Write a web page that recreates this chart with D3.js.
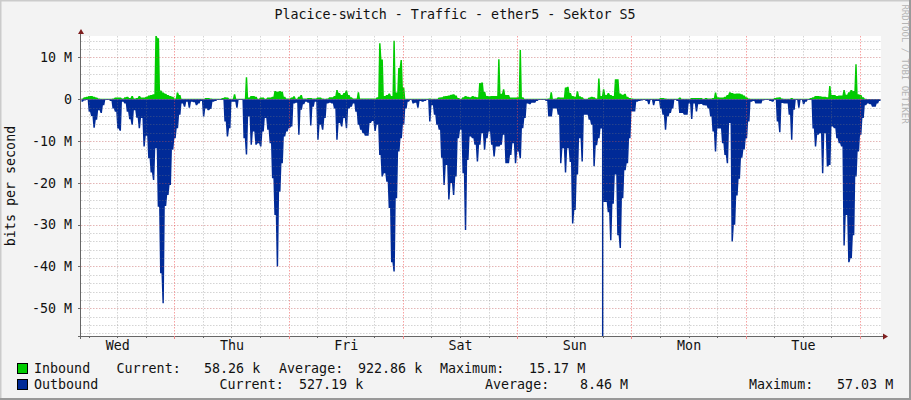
<!DOCTYPE html>
<html lang="en">
<head>
<meta charset="UTF-8" />
<title>Placice-switch - Traffic - ether5 - Sektor S5</title>
<script src="https://d3js.org/d3.v7.min.js"></script>
<style>
  html, body { margin: 0; padding: 0; background: #f3f3f3; overflow: hidden; }
  svg { display: block; }
  text { font-family: "DejaVu Sans Mono", monospace; fill: #111; white-space: pre; }
  .axis path, .axis line { stroke: none; }
  .axis text { font-size: 13.33px; font-family: "DejaVu Sans Mono", monospace; fill: #111; }
</style>
</head>
<body>
<svg id="chart" width="911" height="400"></svg>
<script>
// 30 minute samples in Mbit/s, one row = 6 hours
const inbound = [
  .2,.5,.6,.8,.8,.6,.4,.2,.1,.1,.1,.1,
  .1,.2,.4,.4,.4,.2,.5,.6,.3,.8,.2,.3,
  .8,.4,.4,.6,.9,1,1.2,15.17,14.6,2.1,1.6,1.3,
  1,.8,.6,.2,1.6,1,.1,.1,.1,.1,.1,.1,
  .1,.1,.1,.1,.3,.3,.2,.1,.1,.1,.1,.3,
  .5,.4,.1,.1,1.2,.1,.1,.1,.1,5.3,.4,.8,
  .8,.6,.1,.4,.4,.1,.4,.4,.6,2,1.8,2,

  1.8,.6,.2,.2,.4,.7,.1,.6,1,.2,.2,.3,
  .3,.2,.2,.4,.4,.2,.1,.2,.5,.5,.8,2.2,
  1.5,1,1.5,2.1,1,.5,.2,.2,1.7,.2,.2,.2,
  .2,.2,.2,.2,.5,13.4,9.5,.8,1,1.4,.8,14,
  1.6,7.5,9.4,2.8,.1,.1,.1,.1,.1,.1,.1,.1,
  .1,.1,.2,.1,.1,.1,.4,.5,.7,.8,.9,1.1,
  1.2,.9,.3,.1,.5,.8,.6,.5,.8,.6,.5,3.9,

  4,1.8,.8,.7,.8,.8,.8,9.6,1.3,2.4,1,1,
  .4,.4,.4,.5,11.8,.5,.1,.1,.1,.1,.1,.1,
  .1,.1,.1,.1,.2,1.7,.1,.2,.5,.4,.4,2.8,
  3,1.5,.8,.6,1.9,.7,.5,.1,.1,.4,.6,.5,
  .2,5,.8,2.4,1,1.5,1,.8,4.8,4.8,1.4,1.1,
  1.3,.6,.3,.2,.1,.1,.1,.1,.1,.1,.1,.1,
  .1,.1,.1,.3,.3,.2,.1,.1,.1,.1,.1,.4,

  .1,.1,.1,.1,.3,.3,.3,.3,.3,.1,.3,.2,
  .2,.3,1.6,.5,.4,.4,.6,1,1.7,1.5,1.3,1.4,
  1.4,1.2,.9,.5,.2,.1,.1,.1,.1,.1,.1,.1,
  .1,.1,.1,.3,.4,.5,.2,.1,.1,.1,.3,.1,
  .1,.1,.1,.1,.1,.1,.3,.5,.8,.8,.7,.6,
  .6,.5,3.2,1,1,.8,.9,.9,2.2,1.1,1.7,2.2,
  2,8.4,1.2,1,.5,.1,.06,.06,.06,.06,.06,.06
];

const outbound = [
  .6,.3,.2,3,4,6.8,4.9,2.6,3.3,1.4,.2,.2,
  .4,2.2,3,7,7.5,.6,1,3,4.8,6.1,2.6,4.4,
  6.9,4.5,11.3,8.7,14.1,17.5,19.3,11.7,25.7,41.6,48.8,25.5,
  22.9,20.5,12.1,9.3,6.9,3.7,1,1.8,.6,2,.6,.7,
  1.4,1,.4,4.1,2.2,2.6,2.3,.6,.4,.2,.2,.2,
  5.3,8.9,6.9,.6,.6,2,.2,.2,9.3,13.2,4.1,10.9,
  7.7,10.9,10.5,11.3,7.7,4.5,7.3,10.5,18.9,27.7,40,22.1,

  15.3,8.9,7.7,6.9,6.5,1,.8,8.5,2.5,1.2,.6,.8,
  6.3,1.8,.6,9.7,6.1,7.3,4.5,1,.8,1,2.2,9.7,
  5.7,6.5,4.5,6.9,2.2,1.8,1,3,6.1,7.3,8.1,8.7,
  8.7,5.7,5.2,7.6,6.1,13.3,18.5,17.7,19.7,26,39,41.2,
  23.7,12.5,9.3,6.1,2.2,.6,.2,1,.8,2,.4,.6,
  .4,.2,5.3,1.4,3.7,6.1,7.3,14,20.5,15.7,24,20,
  22.9,18.5,9.3,7.3,17.7,31.3,14.5,8.9,9.3,10.9,14.9,10.9,

  8.1,12.1,9.3,7.7,10.9,13.7,11.3,11.3,10.9,8.5,15.3,15.3,
  13.3,10.5,15.3,12.5,14.1,6.9,4.5,1,1.2,.8,.8,.4,
  .2,.2,.2,.4,4.1,4.1,2.2,2.2,3.7,15.3,11.7,17.5,
  11.7,15,29.7,26.5,18,9.3,14.9,3.7,3.7,4.9,6.1,16,
  11,9.3,7,24.6,24.6,27,33.7,25,18,32.5,35.6,23.7,
  17,15.3,9.3,2.9,2.9,.6,.4,.3,.2,.4,1.2,.2,
  1.4,.4,.4,2.2,3.7,7.3,4.1,3.3,2.2,.2,.4,3.3,

  3.3,3.7,3.7,1,4.7,1,2.9,1.2,1.1,1.4,1.5,2.2,
  4.1,7.7,12.5,7,7,10.5,13.3,15.3,5.7,34,30,23,
  19,14,12,9.3,5.3,.6,.4,1,1,1,.3,.2,
  .2,.4,.6,.2,5.3,7.9,.9,1,1,3.7,9.7,2.5,
  .2,2,.2,1.2,.6,.2,.2,7,11.3,8.5,8.1,17.7,
  8.1,16.1,15.7,6.5,6.9,9.3,10.5,11.3,35,27.7,39,38,
  32.5,18.5,12.5,8.5,4.5,1.4,1,1.2,1.8,1.8,1,.4
];

// the one very short burst on Sunday, narrower than a sample
const burstHour = [109.4];
const burstValue = [57.03];

const days = ["Wed", "Thu", "Fri", "Sat", "Sun", "Mon", "Tue"];
const yTicks = [10, 0, -10, -20, -30, -40, -50];
const yTickLabels = ["10 M", "0", "-10 M", "-20 M", "-30 M", "-40 M", "-50 M"];

const legendNames = ["Inbound", "Outbound"];
const legendColors = ["#00cc00", "#002a97"];
const legendStats = [
  ["Current:", "58.26 k", "Average:", "922.86 k", "Maximum:", "15.17 M"],
  ["Current:", "527.19 k", "Average:", "8.46 M", "Maximum:", "57.03 M"]
];
const legendStatX = [
  [116.5, 204, 279, 358, 440, 529],
  [219.5, 299, 485, 580, 749, 837]
];

const hoursShown = 168;
const sampleHours = 0.5;
const firstMidnight = 19.6; // hours after the left edge of the plot

const svg = d3.select("#chart");
const plot = { left: 81, right: 881, top: 36, bottom: 336 };

const x = d3.scaleLinear().domain([0, hoursShown]).range([plot.left, plot.right]);
const y = d3.scaleLinear().domain([-56.63, 15.14]).range([plot.bottom, plot.top]);

const midnights = d3.range(firstMidnight, hoursShown, 24);
const sixHours = d3.range(firstMidnight - 18, hoursShown, 6)
  .filter(h => !midnights.some(m => Math.abs(m - h) < 0.01));
const noons = days.map((d, i) => firstMidnight - 12 + 24 * i);

// canvas and frame
svg.append("rect").attr("width", 911).attr("height", 400).attr("fill", "#f3f3f3");
svg.append("path").attr("d", "M0.5 400V0.5H911").attr("fill", "none").attr("stroke", "#cbcbcb").attr("stroke-width", 2);
svg.append("path").attr("d", "M910 0V399H0").attr("fill", "none").attr("stroke", "#999").attr("stroke-width", 2);
svg.append("rect")
  .attr("x", plot.left).attr("y", plot.top)
  .attr("width", plot.right - plot.left).attr("height", plot.bottom - plot.top)
  .attr("fill", "#fff");

svg.append("defs").append("clipPath").attr("id", "plot-clip").append("rect")
  .attr("x", plot.left).attr("y", plot.top)
  .attr("width", plot.right - plot.left).attr("height", plot.bottom - plot.top);

// traffic areas: each sample holds flat over most of its half hour, with a steep edge to the next
function drawArea(values, sign, color) {
  const corners = values.flatMap((v, i) => [
    { hour: (i + 0.2) * sampleHours, value: v },
    { hour: (i + 0.8) * sampleHours, value: v }
  ]);
  const area = d3.area()
    .x(d => x(d.hour))
    .y0(y(0))
    .y1(d => y(sign * d.value));
  svg.append("path")
    .attr("clip-path", "url(#plot-clip)")
    .attr("d", area(corners))
    .attr("fill", color);
}
drawArea(inbound, 1, legendColors[0]);
drawArea(outbound, -1, legendColors[1]);

svg.append("g").attr("clip-path", "url(#plot-clip)")
  .selectAll("rect").data(burstHour).join("rect")
  .attr("x", d => x(d))
  .attr("width", d => x(d + 0.3) - x(d))
  .attr("y", y(0))
  .attr("height", (d, i) => y(-burstValue[i]) - y(0))
  .attr("fill", legendColors[1]);

// grid goes over the areas, the way rrdtool does it
const minorY = d3.range(-56, 15, 2).filter(v => v % 10 !== 0);
const majorY = d3.range(-50, 15, 10);
const grid = svg.append("g").attr("fill", "none").attr("stroke-dasharray", "1.5 1.5");

function gridH(values, color) {
  grid.selectAll(null).data(values).join("line")
    .attr("x1", plot.left).attr("x2", plot.right + 1)
    .attr("y1", d => Math.round(y(d)) + 0.5).attr("y2", d => Math.round(y(d)) + 0.5)
    .attr("stroke", color);
}
function gridV(values, color) {
  grid.selectAll(null).data(values).join("line")
    .attr("x1", d => Math.round(x(d)) + 0.5).attr("x2", d => Math.round(x(d)) + 0.5)
    .attr("y1", plot.top).attr("y2", plot.bottom)
    .attr("stroke", color);
}
gridH(minorY, "rgba(120,120,120,0.32)");
gridV(sixHours, "rgba(120,120,120,0.32)");
gridH(majorY, "rgba(190,80,80,0.42)");
gridV(midnights, "rgba(240,70,70,0.5)");

// axes
const yAxis = d3.axisLeft(y)
  .tickValues(yTicks)
  .tickFormat((d, i) => yTickLabels[i])
  .tickSize(0)
  .tickPadding(8);
svg.append("g").attr("class", "axis")
  .attr("transform", `translate(${plot.left - 1},0)`)
  .call(yAxis);

const xAxis = d3.axisBottom(x)
  .tickValues(noons)
  .tickFormat((d, i) => days[i])
  .tickSize(0)
  .tickPadding(4);
svg.append("g").attr("class", "axis")
  .attr("transform", `translate(0,${plot.bottom + 1})`)
  .call(xAxis);

const axisLines = svg.append("g").attr("stroke", "#666").attr("fill", "none");
axisLines.append("line").attr("x1", 80.5).attr("x2", 80.5).attr("y1", 32).attr("y2", 339);
axisLines.append("line").attr("x1", 78).attr("x2", 884).attr("y1", 336.5).attr("y2", 336.5);
axisLines.selectAll(null).data(yTicks).join("line")
  .attr("x1", 78).attr("x2", 81)
  .attr("y1", d => Math.round(y(d)) + 0.5).attr("y2", d => Math.round(y(d)) + 0.5);
axisLines.selectAll(null).data(sixHours).join("line")
  .attr("x1", d => Math.round(x(d)) + 0.5).attr("x2", d => Math.round(x(d)) + 0.5)
  .attr("y1", 336).attr("y2", 338);
axisLines.selectAll(null).data(midnights).join("line")
  .attr("x1", d => Math.round(x(d)) + 0.5).attr("x2", d => Math.round(x(d)) + 0.5)
  .attr("y1", 336).attr("y2", 339).attr("stroke", "#e88");

svg.append("path").attr("d", "M78 34L81 29L84 34Z").attr("fill", "#7f1f1f");
svg.append("path").attr("d", "M883 333.5L888 336.5L883 339.5Z").attr("fill", "#7f1f1f");

// titles
svg.append("text").attr("x", 455).attr("y", 19).attr("text-anchor", "middle")
  .attr("font-size", 13.33).text("Placice-switch - Traffic - ether5 - Sektor S5");
svg.append("text").attr("transform", "translate(15,186) rotate(-90)").attr("text-anchor", "middle")
  .attr("font-size", 13.33).text("bits per second");
svg.append("text").attr("transform", "translate(902,64) rotate(90)").attr("text-anchor", "middle")
  .attr("font-size", 9).style("fill", "#b4b4b4").text("RRDTOOL / TOBI OETIKER");

// legend
const legendRows = svg.selectAll(".legend-row").data(legendNames).join("g")
  .attr("class", "legend-row")
  .attr("transform", (d, i) => `translate(0,${373 + 16 * i})`);
legendRows.append("rect")
  .attr("x", 17.5).attr("y", -9.5).attr("width", 10).attr("height", 10)
  .attr("fill", (d, i) => legendColors[i]).attr("stroke", "#000");
legendRows.append("text").attr("x", 34).attr("font-size", 13.33).text(d => d);
legendRows.each(function (d, i) {
  d3.select(this).selectAll(".stat").data(legendStats[i]).join("text")
    .attr("class", "stat")
    .attr("x", (s, j) => legendStatX[i][j])
    .attr("font-size", 13.33)
    .text(s => s);
});
</script>
</body>
</html>
